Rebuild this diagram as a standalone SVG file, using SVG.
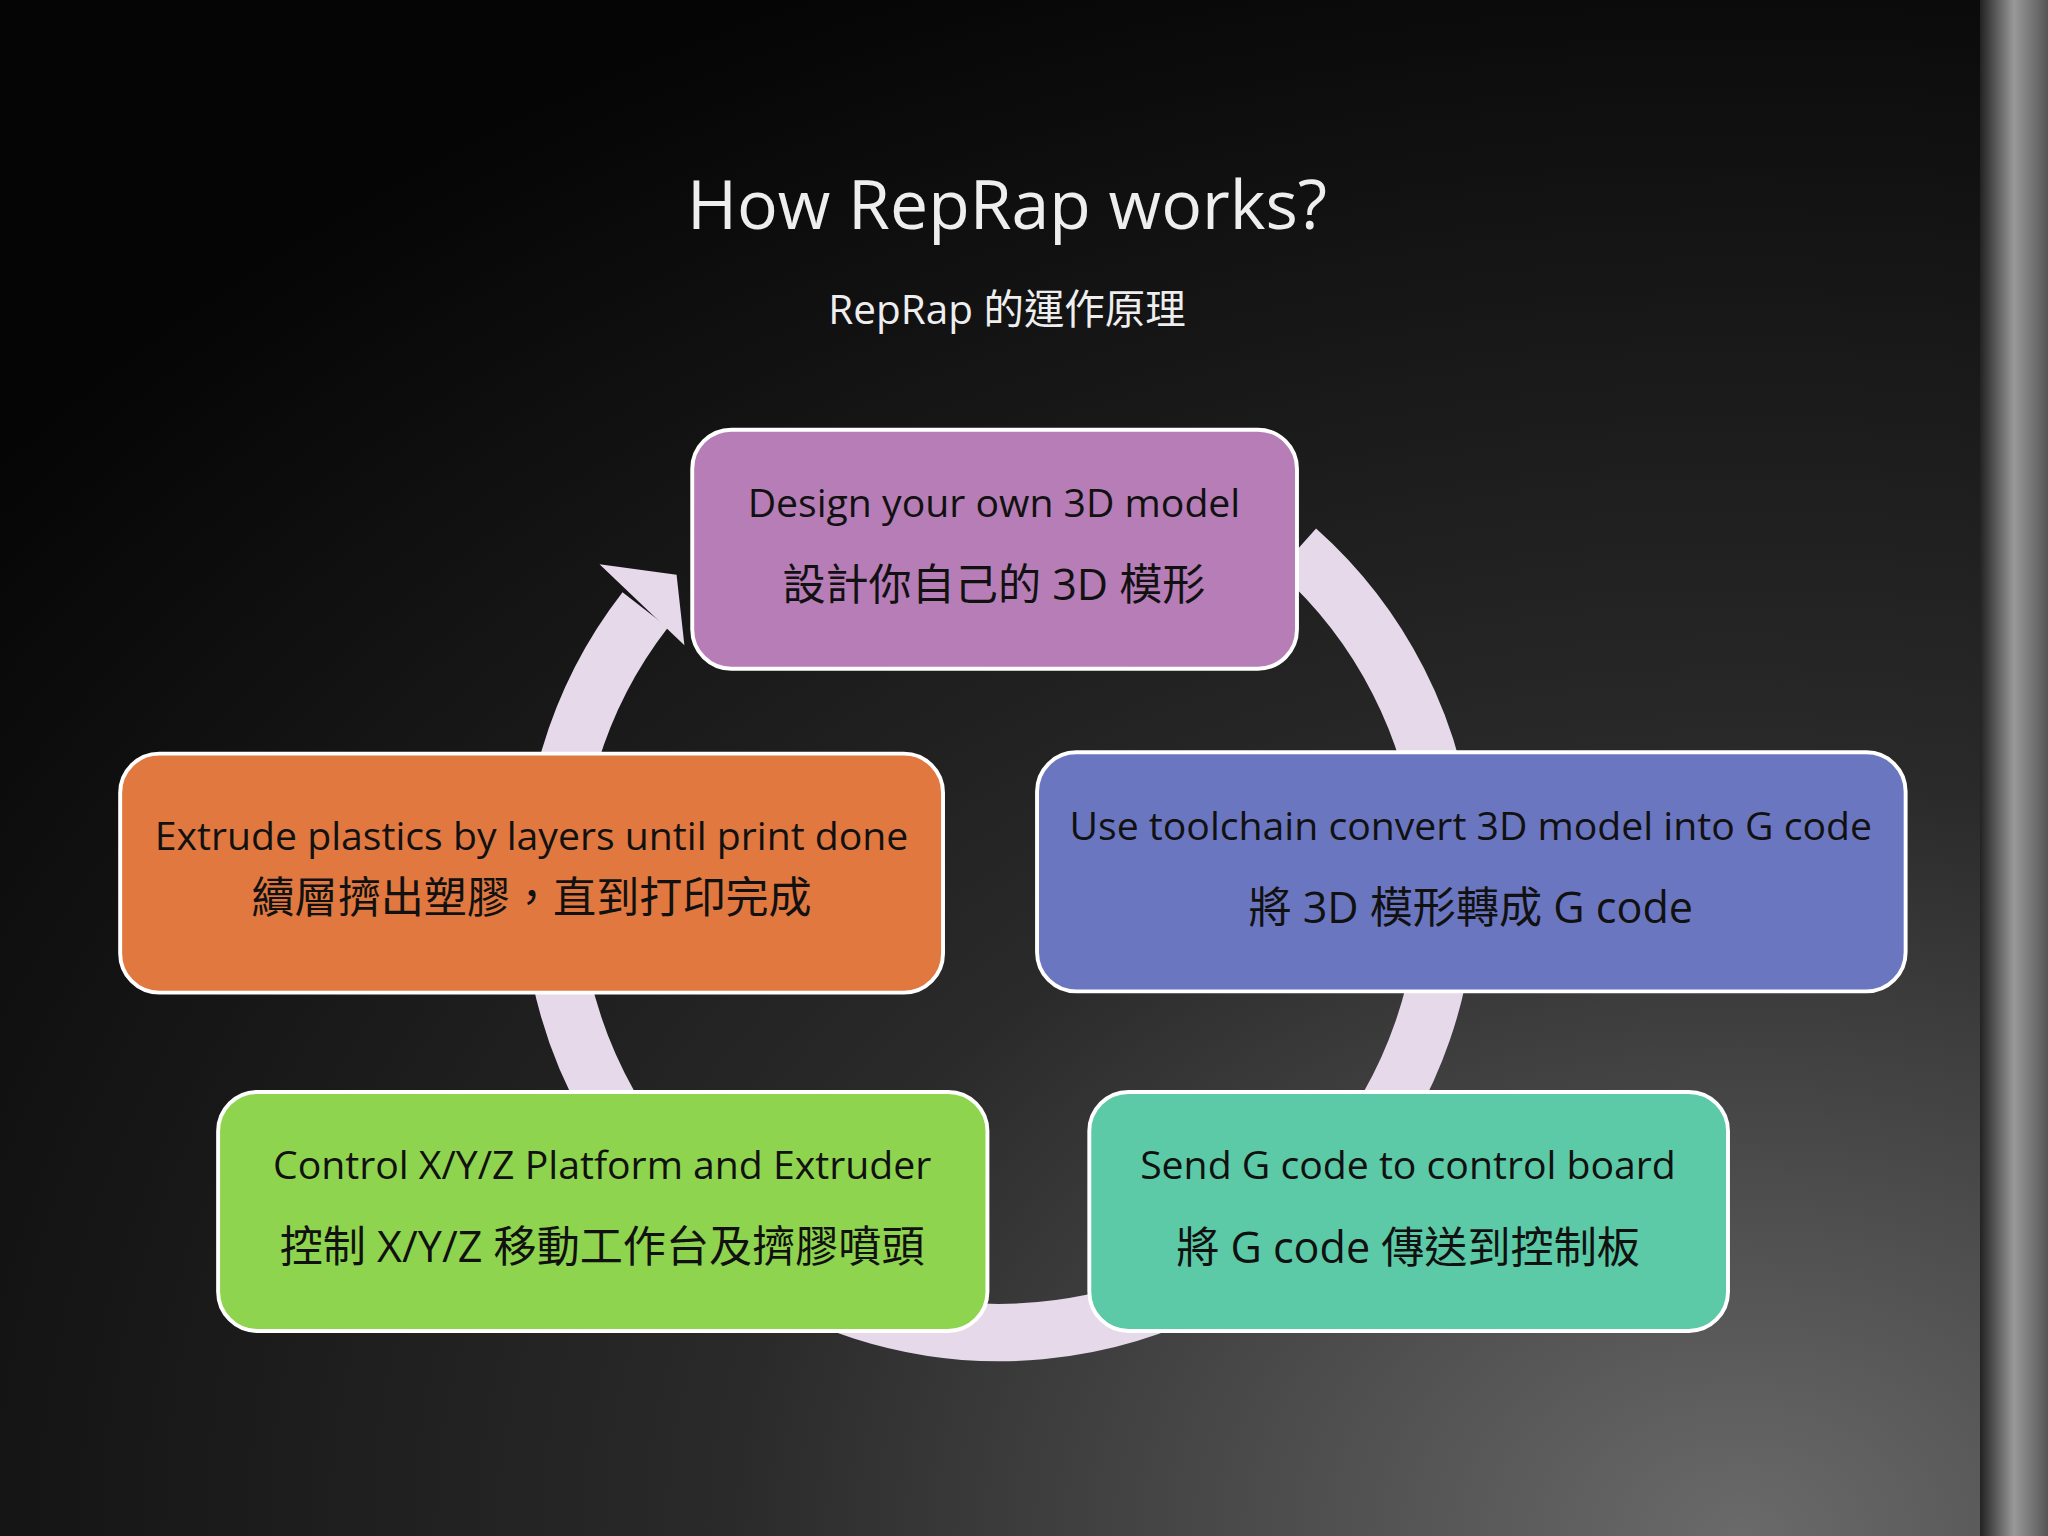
<svg xmlns="http://www.w3.org/2000/svg" width="2048" height="1536" viewBox="0 0 2048 1536">
<defs>
<radialGradient id="bg" cx="0.85" cy="1" r="1.1">
<stop offset="0" stop-color="#6a6a6a"/><stop offset="0.45" stop-color="#2a2a2a"/><stop offset="1" stop-color="#050505"/>
</radialGradient>
<linearGradient id="strip" x1="0" x2="1"><stop offset="0" stop-color="#222"/><stop offset="0.5" stop-color="#999"/><stop offset="1" stop-color="#555"/></linearGradient>
<style>
.box{stroke:#fff;stroke-width:3}
.t{font-family:"Open Sans","Noto Sans CJK TC",sans-serif;font-size:30px;fill:#111;text-anchor:middle}
.c{font-size:33px}
.h{font-family:"Open Sans","Noto Sans CJK TC",sans-serif;fill:#eee;text-anchor:middle}
</style>
</defs>
<rect width="2048" height="1536" fill="url(#bg)"/>
<rect x="1980" y="0" width="68" height="1536" fill="url(#strip)"/>
<g transform="scale(1.30612)">
<text class="h" x="771" y="175" font-size="52">How RepRap works?</text>
<text class="h" x="771" y="248" font-size="31">RepRap 的運作原理</text>
<g id="connectors" fill="none">
<path d="M993,425 A343,343 0 1 1 494,471" stroke="#e6d9e9" stroke-width="44" transform="translate(0,-4)"/>
<polygon points="459,432 524,494 518,440" fill="#e6d9e9"/>
</g>
<g id="n1"><rect class="box" x="530" y="329" width="463" height="183" rx="30" fill="#b67db6"/>
<text class="t" x="761" y="396">Design your own 3D model</text><text class="t c" x="761" y="459">設計你自己的 3D 模形</text></g>
<g id="n2"><rect class="box" x="794" y="576" width="665" height="183" rx="30" fill="#6b76c0"/>
<text class="t" x="1126" y="643">Use toolchain convert 3D model into G code</text><text class="t c" x="1126" y="707">將 3D 模形轉成 G code</text></g>
<g id="n3"><rect class="box" x="834" y="836" width="489" height="183" rx="30" fill="#5ccaa6"/>
<text class="t" x="1078" y="903">Send G code to control board</text><text class="t c" x="1078" y="967">將 G code 傳送到控制板</text></g>
<g id="n4"><rect class="box" x="167" y="836" width="589" height="183" rx="30" fill="#8fd44e"/>
<text class="t" x="461" y="903">Control X/Y/Z Platform and Extruder</text><text class="t c" x="461" y="966">控制 X/Y/Z 移動工作台及擠膠噴頭</text></g>
<g id="n5"><rect class="box" x="92" y="577" width="630" height="183" rx="30" fill="#e07840"/>
<text class="t" x="407" y="651">Extrude plastics by layers until print done</text><text class="t c" x="407" y="699">續層擠出塑膠，直到打印完成</text></g>
</g>
</svg>
